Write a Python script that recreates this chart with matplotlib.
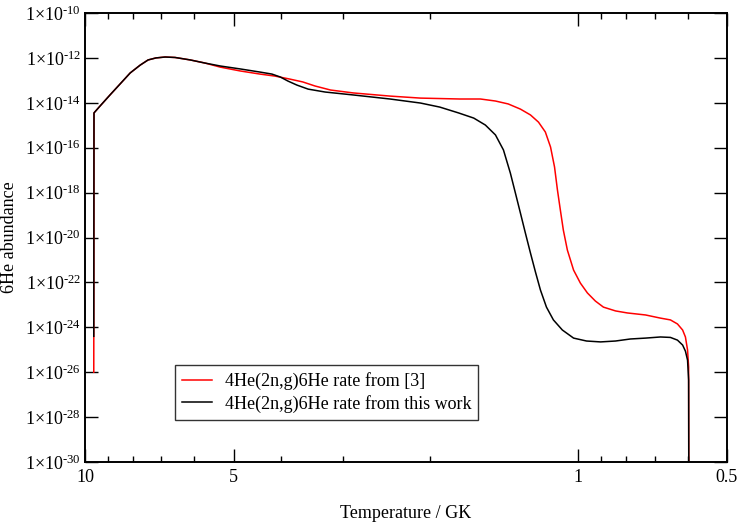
#!/usr/bin/env python3
"""6He abundance versus temperature for two 4He(2n,g)6He rates."""

import matplotlib

matplotlib.use("Agg", force=True)
import matplotlib.pyplot as plt
import numpy as np
from matplotlib.ticker import FixedLocator, NullFormatter

plt.rcParams["font.family"] = ["Liberation Serif", "DejaVu Serif"]
plt.rcParams["mathtext.fontset"] = "custom"
plt.rcParams["mathtext.rm"] = "Liberation Serif"
plt.rcParams["font.size"] = 13

# temperature (GK) and log10 of 6He abundance, rate from [3]
T_REF = [9.60, 9.59, 9.32, 8.90, 8.49, 8.10, 7.73, 7.45, 7.18, 6.88, 6.57, 6.12,
         5.71, 5.32, 4.85, 4.42, 4.12, 3.85, 3.62, 3.42, 3.18, 2.86, 2.41, 2.09,
         1.74, 1.58, 1.473, 1.388, 1.311, 1.251, 1.205, 1.167, 1.139, 1.118,
         1.103, 1.088, 1.073, 1.053, 1.023, 0.991, 0.959, 0.924, 0.890, 0.841,
         0.796, 0.731, 0.682, 0.651, 0.630, 0.615, 0.607, 0.601, 0.598, 0.5975]
LOGY_REF = [-26.0, -14.45, -14.14, -13.65, -13.16, -12.67, -12.32, -12.09, -12.00,
            -11.96, -11.98, -12.09, -12.23, -12.41, -12.58, -12.72, -12.81, -12.94,
            -13.07, -13.25, -13.43, -13.56, -13.70, -13.79, -13.83, -13.83, -13.92,
            -14.05, -14.28, -14.54, -14.86, -15.30, -15.97, -16.86, -17.88, -18.78,
            -19.67, -20.56, -21.45, -22.03, -22.47, -22.83, -23.10, -23.27, -23.36,
            -23.45, -23.59, -23.67, -23.85, -24.12, -24.43, -25.01, -25.77, -31.0]

# rate from this work
T_NEW = [9.60, 9.59, 9.32, 8.90, 8.49, 8.10, 7.73, 7.45, 7.18, 6.88, 6.57, 6.12,
         5.71, 5.32, 4.85, 4.42, 4.18, 4.02, 3.88, 3.72, 3.53, 3.26, 2.86, 2.41,
         2.09, 1.91, 1.75, 1.63, 1.544, 1.473, 1.419, 1.374, 1.342, 1.311, 1.281,
         1.251, 1.222, 1.194, 1.161, 1.124, 1.078, 1.023, 0.963, 0.902, 0.841,
         0.785, 0.731, 0.682, 0.651, 0.630, 0.615, 0.607, 0.601, 0.598, 0.5975]
LOGY_NEW = [-24.4, -14.45, -14.14, -13.65, -13.16, -12.67, -12.32, -12.09, -12.00,
            -11.96, -11.98, -12.09, -12.23, -12.36, -12.49, -12.63, -12.72, -12.85,
            -13.03, -13.21, -13.39, -13.52, -13.65, -13.83, -14.01, -14.19, -14.45,
            -14.68, -14.99, -15.43, -16.10, -17.13, -18.02, -18.91, -19.80, -20.69,
            -21.54, -22.34, -23.10, -23.67, -24.12, -24.48, -24.61, -24.65, -24.61,
            -24.52, -24.48, -24.43, -24.45, -24.57, -24.79, -25.06, -25.46, -26.35,
            -31.0]

X_MAJOR = [10, 5, 1, 0.5]
X_MINOR = [9, 8, 7, 6, 4, 3, 2, 0.9, 0.8, 0.7, 0.6]
Y_EXPONENTS = list(range(-30, -9, 2))

fig = plt.figure(figsize=(7.4, 5.27), dpi=100)
ax = fig.add_axes([0.1149, 0.1233, 0.8675, 0.852])

ax.plot(T_REF, 10.0 ** np.array(LOGY_REF), color="#ff0000", lw=1.1,
        label="4He(2n,g)6He rate from [3]")
ax.plot(T_NEW, 10.0 ** np.array(LOGY_NEW), color="black", lw=1.1,
        label="4He(2n,g)6He rate from this work")

ax.set_xscale("log")
ax.set_yscale("log")
ax.set_xlim(10, 0.5)
ax.set_ylim(1e-30, 1e-10)

ax.xaxis.set_major_locator(FixedLocator(X_MAJOR))
ax.xaxis.set_minor_locator(FixedLocator(X_MINOR))
ax.xaxis.set_minor_formatter(NullFormatter())
ax.set_xticklabels([f"{v:g}" for v in X_MAJOR])

ax.yaxis.set_major_locator(FixedLocator([10.0 ** e for e in Y_EXPONENTS]))
ax.yaxis.set_minor_locator(FixedLocator([]))
# braces keep "×" from getting operator spacing; \text{-} gives a short hyphen
ax.set_yticklabels(
    [rf"$\mathregular{{1{{×}}10^{{\text{{-}}{abs(e)}}}}}$" for e in Y_EXPONENTS]
)

ax.tick_params(which="both", direction="in", top=True, right=True, width=1.0,
               labelsize=13)
ax.tick_params(which="major", length=9.5)
ax.tick_params(which="minor", length=4.5)
ax.tick_params(axis="x", pad=5)
ax.tick_params(axis="y", pad=3)
for spine in ax.spines.values():
    spine.set_linewidth(1.4)

ax.set_xlabel("Temperature / GK", fontsize=13, labelpad=14)
ax.set_ylabel("6He abundance", fontsize=13)
ax.yaxis.set_label_coords(-0.104, 0.5)

leg = ax.legend(loc="lower left", bbox_to_anchor=(0.140, 0.0935), fontsize=13,
                frameon=True, fancybox=False, edgecolor="black",
                handlelength=1.65, handletextpad=0.7, borderpad=0.4,
                labelspacing=0.25, borderaxespad=0)
leg.get_frame().set_linewidth(1.0)

fig.savefig("out.png", dpi=100)
